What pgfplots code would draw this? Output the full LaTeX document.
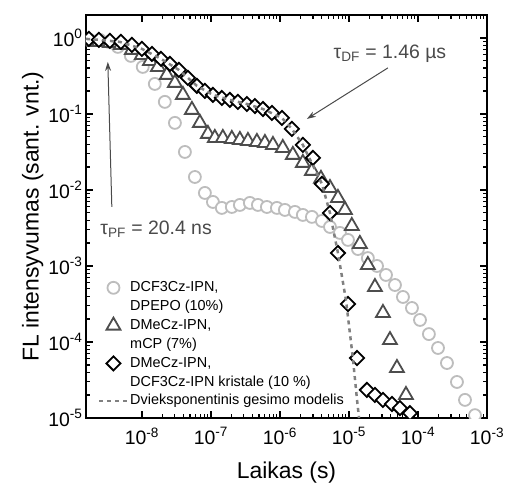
\documentclass[border=0pt]{standalone}
\usepackage{pgfplots}
\pgfplotsset{compat=1.18}
\usepackage{fontspec}
\setmainfont{Liberation Sans}
\usetikzlibrary{arrows.meta,calc}

\definecolor{circgray}{HTML}{BDBDBD}
\definecolor{trigray}{HTML}{4D4D4D}
\definecolor{modelgray}{HTML}{808080}
\definecolor{annot}{HTML}{4A4A4A}

\begin{document}
\begin{tikzpicture}
\begin{axis}[
  scale only axis, width=401bp, height=403bp,
  xmode=log, ymode=log,
  xmin=1.55e-9, xmax=1e-3, ymin=1e-5, ymax=2,
  xtick={1e-8,1e-7,1e-6,1e-5,1e-4,1e-3},
  ytick={1e-5,1e-4,1e-3,1e-2,1e-1,1},
  xticklabels={10\textsuperscript{-8},10\textsuperscript{-7},10\textsuperscript{-6},10\textsuperscript{-5},10\textsuperscript{-4},10\textsuperscript{-3}},
  yticklabels={10\textsuperscript{-5},10\textsuperscript{-4},10\textsuperscript{-3},10\textsuperscript{-2},10\textsuperscript{-1},10\textsuperscript{0}},
  tick label style={font=\fontsize{19.5}{22}\selectfont},
  xticklabel style={yshift=-6bp},
  label style={font=\fontsize{23}{26}\selectfont},
  xlabel style={yshift=-10bp},
  ylabel style={yshift=-2bp},
  xlabel={Laikas (s)},
  ylabel={FL intensyvumas (sant. vnt.)},
  axis line style={line width=1.5bp},
  tick style={line width=1.3bp, black},
  major tick length=7bp, minor tick length=4bp,
  tick align=inside,
  clip marker paths=true,
  legend image code/.code={\draw[mark repeat=2,mark phase=2,#1] plot coordinates {(0bp,0bp)(14bp,0bp)(28bp,0bp)};},
  legend style={at={(rel axis cs:0.03,0.347)}, anchor=north west, draw=none, fill=none,
    font=\fontsize{14.5}{17}\selectfont, row sep=0pt, inner sep=0pt,
    nodes={text height=11.7bp, text depth=4.2bp, inner sep=1.5bp}},
  legend cell align=left,
]

% DCF3Cz-IPN, DPEPO (10%)
\addplot[only marks, mark=*, mark size=6bp, mark options={draw=circgray, fill=white, line width=1.8bp}]
coordinates {
(1.76e-9,0.941) (2.46e-9,0.941) (3.32e-9,0.886) (4.49e-9,0.761) (6.93e-9,0.580)
(1.03e-8,0.415) (1.54e-8,0.248) (2.15e-8,0.144) (3.01e-8,0.0762) (4.20e-8,0.0316)
(5.86e-8,0.0148) (8.18e-8,0.00913) (1.07e-7,0.00695) (1.44e-7,0.00580) (2.01e-7,0.00597)
(2.63e-7,0.00635) (3.67e-7,0.00675) (4.80e-7,0.00635) (6.48e-7,0.00597) (9.05e-7,0.00580)
(1.18e-6,0.00546) (1.65e-6,0.00514) (2.15e-6,0.00469) (2.91e-6,0.00442) (4.06e-6,0.00391)
(5.31e-6,0.00326) (7.41e-6,0.00272) (9.68e-6,0.00220) (1.35e-5,0.00167) (1.88e-5,0.00127)
(2.55e-5,0.00100) (3.44e-5,7.62e-4) (4.64e-5,5.62e-4) (6.06e-5,3.91e-4) (8.18e-5,2.80e-4)
(1.07e-4,1.95e-4) (1.44e-4,1.27e-4) (1.95e-4,8.34e-5) (2.63e-4,5.29e-5) (3.67e-4,2.98e-5)
(4.80e-4,1.73e-5) (6.70e-4,1.09e-5)
};
\addlegendentry{DCF3Cz-IPN,}
\addlegendimage{empty legend}
\addlegendentry{DPEPO (10\%)}

% DMeCz-IPN, mCP (7%)
\addplot[only marks, mark=triangle*, mark size=8bp, mark options={draw=trigray, fill=white, line width=1.8bp}]
coordinates {
(1.706e-9,0.886) (2.38e-9,0.886) (3.44e-9,0.860) (4.96e-9,0.809) (7.16e-9,0.695)
(1.0e-8,0.597) (1.31e-8,0.498) (1.71e-8,0.415) (2.30e-8,0.326) (3.01e-8,0.256)
(3.93e-8,0.178) (5.31e-8,0.113) (6.93e-8,0.0762) (9.05e-8,0.0546) (1.14e-7,0.0483)
(1.49e-7,0.0483) (2.01e-7,0.0469) (2.63e-7,0.0455) (3.44e-7,0.0441) (4.64e-7,0.0428)
(6.06e-7,0.0415) (7.92e-7,0.0391) (1.10e-6,0.0357) (1.54e-6,0.0289) (2.15e-6,0.0227)
(2.91e-6,0.0178) (3.93e-6,0.0140) (5.31e-6,0.0106) (6.93e-6,0.00785) (8.75e-6,0.00546)
(1.10e-5,0.00336) (1.44e-5,0.00195) (1.88e-5,0.00103) (2.38e-5,5.29e-4) (3.11e-5,2.41e-4)
(3.93e-5,1.06e-4) (4.96e-5,4.55e-5) (6.70e-5,2.01e-5)
};
\addlegendentry{DMeCz-IPN,}
\addlegendimage{empty legend}
\addlegendentry{mCP (7\%)}

% DMeCz-IPN, DCF3Cz-IPN crystal (10 %)
\addplot[only marks, mark=square*, mark size=5bp, mark options={draw=black, fill=white, line width=1.8bp, rotate=45}]
coordinates {
(1.706e-9,0.970) (2.38e-9,0.941) (3.44e-9,0.913) (4.96e-9,0.886) (7.16e-9,0.809)
(1.0e-8,0.717) (1.40e-8,0.616) (1.89e-8,0.530) (2.55e-8,0.455) (3.44e-8,0.379)
(4.64e-8,0.298) (6.27e-8,0.234) (8.18e-8,0.201) (1.07e-7,0.178) (1.44e-7,0.162)
(1.88e-7,0.153) (2.46e-7,0.144) (3.32e-7,0.135) (4.34e-7,0.127) (5.67e-7,0.116)
(7.66e-7,0.103) (1.07e-6,0.0886) (1.49e-6,0.0635) (2.15e-6,0.0391) (3.01e-6,0.0264)
(4.06e-6,0.0120) (5.31e-6,0.00498) (6.93e-6,0.00148) (9.68e-6,3.16e-4) (1.31e-5,6.15e-5)
(1.82e-5,2.34e-5) (2.38e-5,2.01e-5) (3.11e-5,1.73e-5) (4.20e-5,1.53e-5) (5.48e-5,1.35e-5)
(7.66e-5,1.16e-5)
};
\addlegendentry{DMeCz-IPN,}
\addlegendimage{empty legend}
\addlegendentry{DCF3Cz-IPN kristale (10 \%)}

% biexponential decay model
\addplot[modelgray, line width=2.5bp, dash pattern=on 4bp off 4bp, mark=none]
coordinates {
(1.55e-9,0.970) (2.46e-9,0.941) (4.80e-9,0.886) (1.0e-8,0.717) (1.89e-8,0.530)
(3.44e-8,0.379) (6.27e-8,0.234) (1.07e-7,0.178) (1.88e-7,0.153) (3.32e-7,0.135)
(5.67e-7,0.116) (1.07e-6,0.0886) (1.49e-6,0.0635) (2.15e-6,0.0391) (4.06e-6,0.0120)
(5.31e-6,0.00498) (6.93e-6,0.00148) (9.05e-6,3.57e-4) (1.14e-5,6.15e-5) (1.31e-5,1.73e-5)
(1.40e-5,1.0e-5)
};
\addlegendentry{Dvieksponentinis gesimo modelis}

\draw[annot, line width=1bp, -{Stealth[length=9bp,width=6bp]}]
  (axis cs:3.67e-5,0.403) -- (axis cs:2.46e-6,0.0859);
\draw[annot, line width=1bp, -{Stealth[length=9bp,width=6bp]}]
  (axis cs:3.67e-9,5.97e-3) -- (axis cs:3.21e-9,0.483);
\node[annot, font=\fontsize{19.5}{22}\selectfont] at (rel axis cs:0.758,0.903)
  {τ\textsubscript{DF} = 1.46 µs};
\node[annot, font=\fontsize{19.5}{22}\selectfont, anchor=west] at (rel axis cs:0.027,0.469)
  {τ\textsubscript{PF} = 20.4 ns};
\end{axis}
\pgfresetboundingbox
\path[use as bounding box] ($(current axis.south west)+(-86bp,-69bp)$) rectangle ($(current axis.north east)+(19bp,15bp)$);
\end{tikzpicture}
\end{document}
